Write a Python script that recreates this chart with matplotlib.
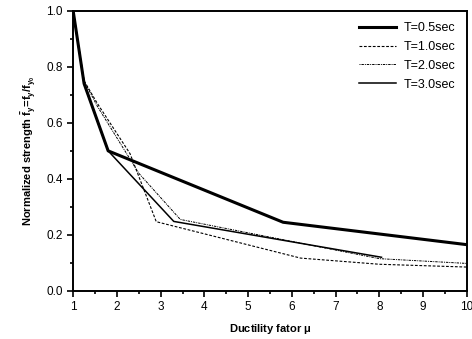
import numpy as np
import matplotlib
matplotlib.use("Agg")
from matplotlib import pyplot as plt

plt.rcParams['font.family'] = ['Liberation Sans', 'DejaVu Sans']
plt.rcParams['mathtext.fontset'] = 'custom'
plt.rcParams['mathtext.rm'] = 'Liberation Sans:bold'
plt.rcParams['mathtext.bf'] = 'Liberation Sans:bold'
plt.rcParams['mathtext.it'] = 'Liberation Sans:bold'

mu_05 = [1.0, 1.25, 1.8, 5.8, 10.0]
fy_05 = [1.0, 0.74, 0.50, 0.245, 0.165]

mu_10 = [1.0, 1.25, 1.55, 2.3, 2.9, 6.2, 8.0, 10.0]
fy_10 = [1.0, 0.75, 0.67, 0.49, 0.247, 0.117, 0.095, 0.085]

mu_20 = [1.0, 1.25, 1.55, 2.5, 3.45, 8.0, 10.0]
fy_20 = [1.0, 0.75, 0.66, 0.42, 0.255, 0.115, 0.098]

mu_30 = [1.0, 1.25, 1.8, 3.3, 8.05]
fy_30 = [1.0, 0.74, 0.50, 0.248, 0.12]

fig = plt.figure(figsize=(4.72, 3.39), dpi=100)
ax = fig.add_axes([0.155, 0.142, 0.834, 0.826])

ax.plot(mu_05, fy_05, color='black', lw=2.2, label='T=0.5sec')
ax.plot(mu_10, fy_10, color='black', lw=0.8, ls=(0, (2.5, 1.5)), label='T=1.0sec')
ax.plot(mu_20, fy_20, color='black', lw=0.7, ls=(0, (1, 1, 2.5, 1)), label='T=2.0sec')
ax.plot(mu_30, fy_30, color='black', lw=1.1, label='T=3.0sec')

ax.set_xlim(1, 10)
ax.set_ylim(0, 1.0)
ax.set_xticks(np.arange(1, 11, 1))
ax.set_xticks(np.arange(1, 10.01, 0.5), minor=True)
ax.set_yticks(np.arange(0, 1.01, 0.2))
ax.set_yticks(np.arange(0, 1.01, 0.1), minor=True)
ax.set_yticklabels(['0.0', '0.2', '0.4', '0.6', '0.8', '1.0'])
ax.tick_params(which='both', direction='out', labelsize=8.5, width=1.2)
ax.tick_params(which='major', length=4)
ax.tick_params(which='minor', length=2.5)
for s in ax.spines.values():
    s.set_linewidth(1.4)

ax.set_xlabel(r'Ductility fator $\mu$', fontsize=8, fontweight='bold', labelpad=6)
ax.set_ylabel(r'Normalized strength $\bar{f}_y\!=\!f_y/f_{y_0}$', fontsize=8,
              fontweight='bold', labelpad=6)

ax.legend(loc='upper right', frameon=False, fontsize=9, handlelength=3.0,
          labelspacing=0.55, borderaxespad=0.5, handletextpad=0.6)

fig.savefig('out.png', dpi=100)
